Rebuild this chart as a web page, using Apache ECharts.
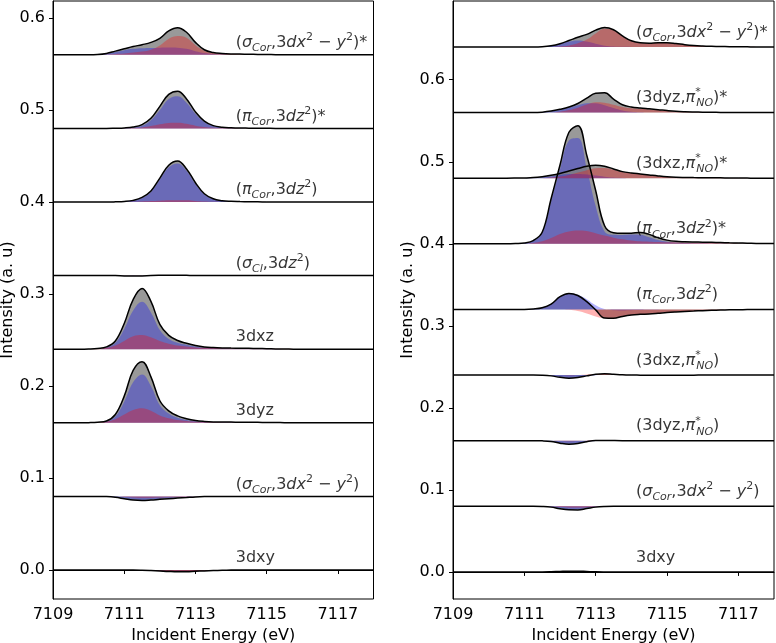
<!DOCTYPE html>
<html>
<head>
<meta charset="utf-8">
<title>Incident energy decomposition</title>
<script src="https://cdn.jsdelivr.net/npm/echarts@6/dist/echarts.min.js"></script>
<style>
  html, body { margin: 0; padding: 0; background: #fff; }
  #chart { width: 776px; height: 643px; }
</style>
</head>
<body>
<div id="chart"></div>
<script>
// incident energy grid (eV)
const energy = [7109, 7109.25, 7109.5, 7109.75, 7110, 7110.25, 7110.5, 7110.75,
  7111, 7111.25, 7111.5, 7111.75, 7112, 7112.25, 7112.5, 7112.75,
  7113, 7113.25, 7113.5, 7113.75, 7114, 7114.25, 7114.5, 7114.75,
  7115, 7115.25, 7115.5, 7115.75, 7116, 7116.25, 7116.5, 7116.75,
  7117, 7117.25, 7117.5, 7117.75, 7118]

const xTicks = [7109, 7111, 7113, 7115, 7117]
const yTicks = [0, 0.1, 0.2, 0.3, 0.4, 0.5, 0.6]

// ---- left panel: offsets, labels, total / blue / red contributions ----
const leftOffsets = [0, 0.08, 0.16, 0.24, 0.32, 0.40, 0.48, 0.56]
const leftLabels = [
  '3dxy',
  '({i|σ}{sub|Cor},3{i|dx}{sup|2} − {i|y}{sup|2})',
  '3dyz',
  '3dxz',
  '({i|σ}{sub|Cl},3{i|dz}{sup|2})',
  '({i|π}{sub|Cor},3{i|dz}{sup|2})',
  '({i|π}{sub|Cor},3{i|dz}{sup|2})*',
  '({i|σ}{sub|Cor},3{i|dx}{sup|2} − {i|y}{sup|2})*'
]

const l3dxyTotal = [0, 0, 0, 0, 0, 0, 0, 0, 0, 0, -0.0002, -0.0006, -0.0011, -0.0016, -0.0019, -0.0018, -0.0014, -0.001, -0.0006, -0.0003, -0.0001, 0, 0, 0, 0, 0, 0, 0, 0, 0, 0, 0, 0, 0, 0, 0, 0]
const l3dxyBlue = [0, 0, 0, 0, 0, 0, 0, 0, 0, 0, 0, -0.0002, -0.0004, -0.0006, -0.0007, -0.0006, -0.0004, -0.0002, 0, 0, 0, 0, 0, 0, 0, 0, 0, 0, 0, 0, 0, 0, 0, 0, 0, 0, 0]
const l3dxyRed = [0, 0, 0, 0, 0, 0, 0, 0, 0, 0, -0.0002, -0.0005, -0.0009, -0.0013, -0.0016, -0.0016, -0.0013, -0.0009, -0.0005, -0.0002, 0, 0, 0, 0, 0, 0, 0, 0, 0, 0, 0, 0, 0, 0, 0, 0, 0]

const lSigTotal = [0, 0, 0, 0, 0, 0, -0.0002, -0.001, -0.0025, -0.004, -0.0045, -0.004, -0.0032, -0.0025, -0.0018, -0.0012, -0.0006, -0.0002, 0, 0, 0, 0, 0, 0, 0, 0, 0, 0, 0, 0, 0, 0, 0, 0, 0, 0, 0]
const lSigBlue = [0, 0, 0, 0, 0, 0, 0, -0.0008, -0.002, -0.0033, -0.0038, -0.0033, -0.0025, -0.0018, -0.0012, -0.0008, -0.0004, -0.0001, 0, 0, 0, 0, 0, 0, 0, 0, 0, 0, 0, 0, 0, 0, 0, 0, 0, 0, 0]
const lSigRed = [0, 0, 0, 0, 0, 0, 0, -0.0002, -0.0006, -0.0011, -0.0014, -0.0014, -0.0012, -0.001, -0.0008, -0.0005, -0.0003, -0.0001, 0, 0, 0, 0, 0, 0, 0, 0, 0, 0, 0, 0, 0, 0, 0, 0, 0, 0, 0]

const l3dyzTotal = [0, 0, 0, 0, 0.0002, 0.0007, 0.002, 0.009, 0.029, 0.057, 0.0665, 0.05, 0.024, 0.013, 0.0075, 0.0045, 0.0025, 0.0015, 0.001, 0.0009, 0.0008, 0.0007, 0.0006, 0.0005, 0.0004, 0.0003, 0.0002, 0.0001, 0, 0, 0, 0, 0, 0, 0, 0, 0]
const l3dyzBlue = [0, 0, 0, 0, 0, 0, 0.0015, 0.007, 0.023, 0.044, 0.0525, 0.04, 0.019, 0.01, 0.0055, 0.0032, 0.0018, 0.001, 0.0007, 0.0006, 0.0005, 0.0004, 0.0003, 0.0002, 0.0001, 0, 0, 0, 0, 0, 0, 0, 0, 0, 0, 0, 0]
const l3dyzRed = [0, 0, 0, 0, 0, 0.0005, 0.0015, 0.004, 0.009, 0.014, 0.0158, 0.013, 0.008, 0.005, 0.003, 0.002, 0.0012, 0.001, 0.0008, 0.0007, 0.0006, 0.0005, 0.0004, 0.0003, 0.0002, 0.0001, 0, 0, 0, 0, 0, 0, 0, 0, 0, 0, 0]

const l3dxzTotal = [0, 0, 0, 0, 0.0002, 0.0008, 0.0025, 0.009, 0.028, 0.054, 0.066, 0.052, 0.027, 0.015, 0.0095, 0.0064, 0.004, 0.0025, 0.0018, 0.0014, 0.0012, 0.0011, 0.001, 0.0008, 0.0005, 0.0003, 0.0002, 0.0001, 0, 0, 0, 0, 0, 0, 0, 0, 0]
const l3dxzBlue = [0, 0, 0, 0, 0, 0, 0.002, 0.007, 0.022, 0.042, 0.0516, 0.04, 0.021, 0.011, 0.007, 0.0048, 0.003, 0.0018, 0.0013, 0.001, 0.0009, 0.0008, 0.0007, 0.0005, 0.0003, 0.0002, 0, 0, 0, 0, 0, 0, 0, 0, 0, 0, 0]
const l3dxzRed = [0, 0, 0, 0, 0, 0.0005, 0.0015, 0.004, 0.009, 0.014, 0.0154, 0.013, 0.009, 0.006, 0.004, 0.003, 0.002, 0.0015, 0.0012, 0.0011, 0.001, 0.0009, 0.0008, 0.0007, 0.0006, 0.0005, 0.0004, 0.0003, 0.0002, 0.0001, 0, 0, 0, 0, 0, 0, 0]

const lClTotal = [0, 0, 0, 0, 0, 0, 0, 0, -0.0003, -0.0004, -0.0003, 0.0001, 0.0003, 0.0004, 0.0004, 0.0003, 0.0002, 0.0002, 0.0002, 0.0002, 0.0002, 0.0001, 0.0001, 0, 0, 0, 0, 0, 0, 0, 0, 0, 0, 0, 0, 0, 0]
const lClBlue = [0, 0, 0, 0, 0, 0, 0, 0, -0.0002, -0.0003, -0.0002, 0, 0.0001, 0.0002, 0.0002, 0.0001, 0, 0, 0, 0, 0, 0, 0, 0, 0, 0, 0, 0, 0, 0, 0, 0, 0, 0, 0, 0, 0]
const lClRed = [0, 0, 0, 0, 0, 0, 0, 0, -0.0001, -0.0001, -0.0001, 0.0001, 0.0002, 0.0002, 0.0002, 0.0002, 0.0002, 0.0002, 0.0001, 0.0001, 0.0001, 0, 0, 0, 0, 0, 0, 0, 0, 0, 0, 0, 0, 0, 0, 0, 0]

const lPiTotal = [0, 0, 0, 0, 0, 0, 0, 0.0002, 0.0006, 0.0018, 0.005, 0.012, 0.026, 0.04, 0.0445, 0.036, 0.021, 0.009, 0.0035, 0.0015, 0.0008, 0.0005, 0.0003, 0.0002, 0.0001, 0, 0, 0, 0, 0, 0, 0, 0, 0, 0, 0, 0]
const lPiBlue = [0, 0, 0, 0, 0, 0, 0, 0, 0.0005, 0.0016, 0.0045, 0.011, 0.0245, 0.0378, 0.042, 0.034, 0.0195, 0.0083, 0.0032, 0.0013, 0.0007, 0.0004, 0.0002, 0.0001, 0, 0, 0, 0, 0, 0, 0, 0, 0, 0, 0, 0, 0]
const lPiRed = [0, 0, 0, 0, 0, 0, 0, 0, 0, 0.0002, 0.0005, 0.001, 0.0015, 0.002, 0.002, 0.0018, 0.0012, 0.0006, 0.0003, 0.0001, 0, 0, 0, 0, 0, 0, 0, 0, 0, 0, 0, 0, 0, 0, 0, 0, 0]

const lPiStarTotal = [0, 0, 0, 0, 0, 0, 0, 0.0002, 0.0005, 0.0015, 0.0042, 0.011, 0.024, 0.037, 0.0405, 0.032, 0.018, 0.008, 0.003, 0.0013, 0.0007, 0.0004, 0.0003, 0.0002, 0.0001, 0, 0, 0, 0, 0, 0, 0, 0, 0, 0, 0, 0]
const lPiStarBlue = [0, 0, 0, 0, 0, 0, 0, 0, 0.0003, 0.001, 0.003, 0.009, 0.02, 0.032, 0.035, 0.028, 0.016, 0.007, 0.0025, 0.001, 0.0005, 0.0002, 0, 0, 0, 0, 0, 0, 0, 0, 0, 0, 0, 0, 0, 0, 0]
const lPiStarRed = [0, 0, 0, 0, 0, 0, 0, 0, 0.0002, 0.0005, 0.001, 0.0025, 0.0045, 0.006, 0.0062, 0.005, 0.003, 0.0015, 0.0008, 0.0005, 0.0004, 0.0003, 0.0002, 0.0001, 0, 0, 0, 0, 0, 0, 0, 0, 0, 0, 0, 0, 0]

const lSigStarTotal = [0, 0, 0, 0, 0, 0.0003, 0.0015, 0.004, 0.0065, 0.009, 0.011, 0.0135, 0.018, 0.026, 0.0295, 0.0245, 0.0135, 0.0055, 0.0025, 0.0015, 0.001, 0.0008, 0.0006, 0.0004, 0.0003, 0.0002, 0.0001, 0, 0, 0, 0, 0, 0, 0, 0, 0, 0]
const lSigStarBlue = [0, 0, 0, 0, 0, 0.0002, 0.0012, 0.003, 0.005, 0.0065, 0.0072, 0.0075, 0.0078, 0.008, 0.0078, 0.0065, 0.004, 0.002, 0.001, 0.0005, 0.0002, 0, 0, 0, 0, 0, 0, 0, 0, 0, 0, 0, 0, 0, 0, 0, 0]
const lSigStarRed = [0, 0, 0, 0, 0, 0, 0.0003, 0.001, 0.0015, 0.0025, 0.0035, 0.0055, 0.01, 0.0175, 0.0205, 0.0185, 0.0105, 0.0045, 0.002, 0.0012, 0.0008, 0.0006, 0.0005, 0.0004, 0.0003, 0.0002, 0.0002, 0.0001, 0, 0, 0, 0, 0, 0, 0, 0, 0]

// ---- right panel ----
const rightOffsets = [0, 0.08, 0.16, 0.24, 0.32, 0.40, 0.48, 0.56, 0.64]
const rightLabels = [
  '3dxy',
  '({i|σ}{sub|Cor},3{i|dx}{sup|2} − {i|y}{sup|2})',
  '(3dyz,{i|π}{star|*}{sub|NO})',
  '(3dxz,{i|π}{star|*}{sub|NO})',
  '({i|π}{sub|Cor},3{i|dz}{sup|2})',
  '({i|π}{sub|Cor},3{i|dz}{sup|2})*',
  '(3dxz,{i|π}{star|*}{sub|NO})*',
  '(3dyz,{i|π}{star|*}{sub|NO})*',
  '({i|σ}{sub|Cor},3{i|dx}{sup|2} − {i|y}{sup|2})*'
]

const r3dxyTotal = [0, 0, 0, 0, 0, 0, 0, 0, 0, 0, 0, 0.0002, 0.0006, 0.0009, 0.0009, 0.0005, 0.0001, -0.0001, -0.0002, -0.0002, -0.0002, -0.0002, -0.0002, -0.0002, -0.0002, -0.0002, -0.0002, -0.0002, -0.0002, -0.0002, -0.0002, -0.0001, -0.0001, -0.0001, 0, 0, 0]
const r3dxyBlue = [0, 0, 0, 0, 0, 0, 0, 0, 0, 0, 0, 0, 0.0002, 0.0003, 0.0002, 0, 0, 0, 0, 0, 0, 0, 0, 0, 0, 0, 0, 0, 0, 0, 0, 0, 0, 0, 0, 0, 0]
const r3dxyRed = [0, 0, 0, 0, 0, 0, 0, 0, 0, 0, 0, 0, 0.0005, 0.0008, 0.0008, 0.0004, 0, 0, 0, 0, 0, 0, 0, 0, 0, 0, 0, 0, 0, 0, 0, 0, 0, 0, 0, 0, 0]

const rSigTotal = [0, 0, 0, 0, 0, 0, 0, 0, 0, 0, -0.0002, -0.001, -0.003, -0.0043, -0.0045, -0.0028, -0.001, -0.0002, 0, 0, 0, 0, 0, 0, 0, 0, 0, 0, 0, 0, 0, 0, 0, 0, 0, 0, 0]
const rSigBlue = [0, 0, 0, 0, 0, 0, 0, 0, 0, 0, 0, -0.0008, -0.0025, -0.0036, -0.0037, -0.0022, -0.0008, -0.0002, 0, 0, 0, 0, 0, 0, 0, 0, 0, 0, 0, 0, 0, 0, 0, 0, 0, 0, 0]
const rSigRed = [0, 0, 0, 0, 0, 0, 0, 0, 0, 0, 0, -0.0003, -0.0009, -0.0014, -0.0015, -0.001, -0.0004, -0.0001, 0, 0, 0, 0, 0, 0, 0, 0, 0, 0, 0, 0, 0, 0, 0, 0, 0, 0, 0]

const rYzNoTotal = [0, 0, 0, 0, 0, 0, 0, 0, 0, 0, -0.0002, -0.001, -0.003, -0.0042, -0.0035, -0.0012, 0.0002, 0.0003, 0.0001, 0, 0, 0, 0, 0, 0, 0, 0, 0, 0, 0, 0, 0, 0, 0, 0, 0, 0]
const rYzNoBlue = [0, 0, 0, 0, 0, 0, 0, 0, 0, 0, 0, -0.0009, -0.0027, -0.0038, -0.0033, -0.0014, -0.0003, 0, 0, 0, 0, 0, 0, 0, 0, 0, 0, 0, 0, 0, 0, 0, 0, 0, 0, 0, 0]
const rYzNoRed = [0, 0, 0, 0, 0, 0, 0, 0, 0, 0, 0, 0, -0.0005, -0.0008, -0.0005, 0.0003, 0.0008, 0.0006, 0.0002, 0, 0, 0, 0, 0, 0, 0, 0, 0, 0, 0, 0, 0, 0, 0, 0, 0, 0]

const rXzNoTotal = [0, 0, 0, 0, 0, 0, 0, 0, 0, 0, -0.0002, -0.001, -0.0028, -0.0038, -0.003, -0.001, 0.001, 0.0017, 0.001, 0.0003, 0, -0.0001, -0.0002, -0.0002, -0.0002, -0.0002, -0.0001, -0.0001, 0, 0, 0, 0, 0, 0, 0, 0, 0]
const rXzNoBlue = [0, 0, 0, 0, 0, 0, 0, 0, 0, 0, 0, -0.0009, -0.0026, -0.0036, -0.003, -0.0013, -0.0002, 0, 0, 0, 0, 0, 0, 0, 0, 0, 0, 0, 0, 0, 0, 0, 0, 0, 0, 0, 0]
const rXzNoRed = [0, 0, 0, 0, 0, 0, 0, 0, 0, 0, 0, 0, 0, -0.0003, 0, 0.0006, 0.0012, 0.0013, 0.0008, 0.0003, 0, 0, 0, 0, 0, 0, 0, 0, 0, 0, 0, 0, 0, 0, 0, 0, 0]

const rPiTotal = [0, 0, 0, 0, 0, 0, 0, 0, 0, 0.0005, 0.002, 0.0065, 0.0155, 0.0195, 0.017, 0.0095, -0.0005, -0.0105, -0.0108, -0.0085, -0.0068, -0.006, -0.0055, -0.0047, -0.0038, -0.0031, -0.0025, -0.002, -0.0015, -0.0011, -0.0008, -0.0005, -0.0003, -0.0002, -0.0001, 0, 0]
const rPiBlue = [0, 0, 0, 0, 0, 0, 0, 0, 0, 0.0005, 0.002, 0.0065, 0.0155, 0.0197, 0.018, 0.0125, 0.005, 0.0005, -0.001, -0.0012, -0.001, -0.0008, -0.0005, -0.0003, -0.0001, 0, 0, 0, 0, 0, 0, 0, 0, 0, 0, 0, 0]
const rPiRed = [0, 0, 0, 0, 0, 0, 0, 0, 0, 0, 0, 0, 0, -0.0005, -0.002, -0.005, -0.0085, -0.0105, -0.0105, -0.009, -0.0072, -0.0062, -0.0055, -0.0047, -0.0038, -0.0031, -0.0025, -0.002, -0.0015, -0.0011, -0.0008, -0.0005, -0.0003, -0.0002, -0.0001, 0, 0]

const rPiStarTotal = [0, 0, 0, 0, 0, 0, 0, 0.0003, 0.001, 0.004, 0.014, 0.055, 0.096, 0.136, 0.144, 0.108, 0.065, 0.022, 0.0135, 0.0128, 0.013, 0.0138, 0.0115, 0.0075, 0.0045, 0.003, 0.0025, 0.0022, 0.002, 0.0018, 0.0015, 0.0012, 0.001, 0.0008, 0.0005, 0.0004, 0.0003]
const rPiStarBlue = [0, 0, 0, 0, 0, 0, 0, 0, 0.001, 0.004, 0.013, 0.052, 0.091, 0.126, 0.129, 0.092, 0.046, 0.015, 0.011, 0.0108, 0.0113, 0.011, 0.008, 0.0045, 0.0025, 0.0015, 0.001, 0.0008, 0.0006, 0.0004, 0.0003, 0.0002, 0.0001, 0, 0, 0, 0]
const rPiStarRed = [0, 0, 0, 0, 0, 0, 0, 0, 0, 0.001, 0.003, 0.007, 0.012, 0.015, 0.0162, 0.0155, 0.013, 0.01, 0.0075, 0.0055, 0.004, 0.003, 0.0025, 0.0022, 0.0018, 0.0016, 0.0014, 0.0012, 0.001, 0.0009, 0.0008, 0.0007, 0.0005, 0.0004, 0.0003, 0.0002, 0.0002]

const rXzNoStarTotal = [0, 0, 0, 0, 0, 0, 0, 0.0001, 0.0003, 0.0007, 0.0018, 0.0035, 0.0058, 0.0088, 0.0117, 0.0145, 0.0157, 0.0145, 0.0113, 0.008, 0.0064, 0.0052, 0.004, 0.0028, 0.0018, 0.0012, 0.0009, 0.0007, 0.0006, 0.0005, 0.0004, 0.0003, 0.0002, 0.0001, 0, 0, 0]
const rXzNoStarBlue = [0, 0, 0, 0, 0, 0, 0, 0, 0, 0.0005, 0.0012, 0.0025, 0.004, 0.005, 0.0052, 0.0045, 0.0032, 0.0018, 0.0008, 0.0003, 0, 0, 0, 0, 0, 0, 0, 0, 0, 0, 0, 0, 0, 0, 0, 0, 0]
const rXzNoStarRed = [0, 0, 0, 0, 0, 0, 0, 0, 0, 0, 0, 0.0008, 0.002, 0.004, 0.0068, 0.0098, 0.0122, 0.0125, 0.0103, 0.0076, 0.0062, 0.005, 0.0038, 0.0027, 0.0017, 0.0011, 0.0008, 0.0006, 0.0005, 0.0004, 0.0003, 0.0002, 0.0001, 0, 0, 0, 0]

const rYzNoStarTotal = [0, 0, 0, 0, 0, 0, 0, 0, 0, 0, 0.0005, 0.0018, 0.004, 0.0068, 0.011, 0.0175, 0.0235, 0.024, 0.0165, 0.0095, 0.0068, 0.0055, 0.0045, 0.0035, 0.0024, 0.0015, 0.001, 0.0007, 0.0005, 0.0003, 0.0002, 0.0001, 0, 0, 0, 0, 0]
const rYzNoStarBlue = [0, 0, 0, 0, 0, 0, 0, 0, 0, 0, 0.0004, 0.0015, 0.0035, 0.006, 0.009, 0.0112, 0.0115, 0.009, 0.0055, 0.0025, 0.001, 0.0004, 0, 0, 0, 0, 0, 0, 0, 0, 0, 0, 0, 0, 0, 0, 0]
const rYzNoStarRed = [0, 0, 0, 0, 0, 0, 0, 0, 0, 0, 0, 0, 0.001, 0.003, 0.006, 0.0098, 0.0125, 0.012, 0.0095, 0.0068, 0.0052, 0.0045, 0.0038, 0.003, 0.002, 0.0012, 0.0008, 0.0006, 0.0004, 0.0002, 0.0001, 0, 0, 0, 0, 0, 0]

const rSigStarTotal = [0, 0, 0, 0, 0, 0, 0, 0, 0, 0, 0.0003, 0.0015, 0.004, 0.0078, 0.0118, 0.0153, 0.0205, 0.0237, 0.021, 0.0135, 0.0075, 0.005, 0.0046, 0.0052, 0.0052, 0.0042, 0.0028, 0.0018, 0.0012, 0.0008, 0.0005, 0.0003, 0.0002, 0.0001, 0, 0, 0]
const rSigStarBlue = [0, 0, 0, 0, 0, 0, 0, 0, 0, 0, 0.0003, 0.0015, 0.004, 0.0065, 0.0078, 0.0065, 0.0038, 0.0015, 0.0005, 0.0001, 0, 0, 0, 0, 0, 0, 0, 0, 0, 0, 0, 0, 0, 0, 0, 0, 0]
const rSigStarRed = [0, 0, 0, 0, 0, 0, 0, 0, 0, 0, 0, 0, 0.0005, 0.0018, 0.0045, 0.009, 0.0165, 0.0222, 0.0205, 0.0132, 0.0072, 0.0048, 0.0044, 0.005, 0.005, 0.004, 0.0027, 0.0017, 0.0011, 0.0007, 0.0005, 0.0003, 0.0002, 0.0001, 0, 0, 0]

const leftTraces = [
  [l3dxyTotal, l3dxyBlue, l3dxyRed],
  [lSigTotal, lSigBlue, lSigRed],
  [l3dyzTotal, l3dyzBlue, l3dyzRed],
  [l3dxzTotal, l3dxzBlue, l3dxzRed],
  [lClTotal, lClBlue, lClRed],
  [lPiTotal, lPiBlue, lPiRed],
  [lPiStarTotal, lPiStarBlue, lPiStarRed],
  [lSigStarTotal, lSigStarBlue, lSigStarRed]
]
const rightTraces = [
  [r3dxyTotal, r3dxyBlue, r3dxyRed],
  [rSigTotal, rSigBlue, rSigRed],
  [rYzNoTotal, rYzNoBlue, rYzNoRed],
  [rXzNoTotal, rXzNoBlue, rXzNoRed],
  [rPiTotal, rPiBlue, rPiRed],
  [rPiStarTotal, rPiStarBlue, rPiStarRed],
  [rXzNoStarTotal, rXzNoStarBlue, rXzNoStarRed],
  [rYzNoStarTotal, rYzNoStarBlue, rYzNoStarRed],
  [rSigStarTotal, rSigStarBlue, rSigStarRed]
]

const labelEnergy = 7114.13
const font = 'DejaVu Sans'
const grayFill = 'rgba(128,128,128,0.8)'
const blueFill = 'rgba(0,0,255,0.3)'
const redFill = 'rgba(255,0,0,0.3)'
const smoothness = 0.4

const chart = echarts.init(document.getElementById('chart'), null, { renderer: 'canvas' })

// one filled band between the baseline and the curve
const fillSeries = (panel, offset, values, color) => ({
  type: 'line',
  xAxisIndex: panel,
  yAxisIndex: panel,
  data: energy.map((e, i) => [e, offset + values[i]]),
  smooth: smoothness,
  symbol: 'none',
  silent: true,
  lineStyle: { width: 0, opacity: 0 },
  areaStyle: { color: color, origin: offset, opacity: 1 }
})

const outlineSeries = (panel, offset, values) => ({
  type: 'line',
  xAxisIndex: panel,
  yAxisIndex: panel,
  data: energy.map((e, i) => [e, offset + values[i]]),
  smooth: smoothness,
  symbol: 'none',
  silent: true,
  lineStyle: { color: '#000', width: 1.5 }
})

const richStyles = {
  i: { fontFamily: font, fontSize: 16, fontStyle: 'italic', color: '#000' },
  sub: { fontFamily: font, fontSize: 11, fontStyle: 'italic', color: '#000', verticalAlign: 'bottom', lineHeight: 12 },
  sup: { fontFamily: font, fontSize: 11, color: '#000', verticalAlign: 'top', lineHeight: 12 },
  star: { fontFamily: font, fontSize: 11, color: '#000', verticalAlign: 'top', lineHeight: 12, width: 1 }
}

// lift is the pixel distance of the label above its baseline
const labelSeries = (panel, offsets, labels, lift) => ({
  type: 'scatter',
  xAxisIndex: panel,
  yAxisIndex: panel,
  symbolSize: 0.1,
  silent: true,
  z: 10,
  itemStyle: { color: 'rgba(0,0,0,0)' },
  data: offsets.map((o, i) => ({ value: [labelEnergy, o], name: labels[i] })),
  label: {
    show: true,
    position: 'right',
    distance: 0,
    offset: [0, -lift],
    formatter: (p) => p.name,
    fontFamily: font,
    fontSize: 16,
    color: '#000',
    lineHeight: 22,
    rich: richStyles
  }
})

const buildPanel = (panel, offsets, traces) => {
  const list = []
  offsets.forEach((o, k) => {
    const [tot, blue, red] = traces[k]
    list.push(fillSeries(panel, o, tot, grayFill))
    list.push(fillSeries(panel, o, blue, blueFill))
    list.push(fillSeries(panel, o, red, redFill))
    list.push(outlineSeries(panel, o, tot))
  })
  return list
}

const xAxisFor = (gridIndex) => ({
  type: 'value',
  gridIndex: gridIndex,
  min: 7109,
  max: 7118,
  name: 'Incident Energy (eV)',
  nameLocation: 'middle',
  nameGap: 19,
  nameTextStyle: { fontFamily: font, fontSize: 16, color: '#000' },
  axisLine: { show: true, lineStyle: { color: '#000', width: 1 } },
  axisTick: { show: true, length: 4, customValues: xTicks, lineStyle: { color: '#000' } },
  axisLabel: {
    customValues: xTicks,
    margin: 8,
    fontFamily: font,
    fontSize: 16,
    color: '#000',
    formatter: (v) => String(v)
  },
  splitLine: { show: false }
})

const yAxisFor = (gridIndex, min, max, gap) => ({
  type: 'value',
  gridIndex: gridIndex,
  min: min,
  max: max,
  name: 'Intensity (a. u)',
  nameLocation: 'middle',
  nameGap: gap,
  nameTextStyle: { fontFamily: font, fontSize: 16, color: '#000' },
  axisLine: { show: true, lineStyle: { color: '#000', width: 1 } },
  axisTick: { show: true, length: 4, customValues: yTicks, lineStyle: { color: '#000' } },
  axisLabel: {
    customValues: yTicks,
    margin: 8,
    fontFamily: font,
    fontSize: 16,
    color: '#000',
    formatter: (v) => v.toFixed(1)
  },
  splitLine: { show: false }
})

const option = {
  animation: false,
  backgroundColor: '#fff',
  grid: [
    { left: 53, top: 1, width: 320.5, height: 598, outerBoundsMode: 'none', containLabel: false, show: true, borderColor: '#000', borderWidth: 1, backgroundColor: 'transparent' },
    { left: 453, top: 1, width: 321, height: 598, outerBoundsMode: 'none', containLabel: false, show: true, borderColor: '#000', borderWidth: 1, backgroundColor: 'transparent' }
  ],
  xAxis: [xAxisFor(0), xAxisFor(1)],
  yAxis: [yAxisFor(0, -0.0315, 0.6185, 31), yAxisFor(1, -0.033, 0.696, 37)],
  series: [
    ...buildPanel(0, leftOffsets, leftTraces),
    ...buildPanel(1, rightOffsets, rightTraces),
    labelSeries(0, leftOffsets, leftLabels, 12),
    labelSeries(1, rightOffsets, rightLabels, 14.5)
  ]
}

chart.setOption(option)
</script>
</body>
</html>
